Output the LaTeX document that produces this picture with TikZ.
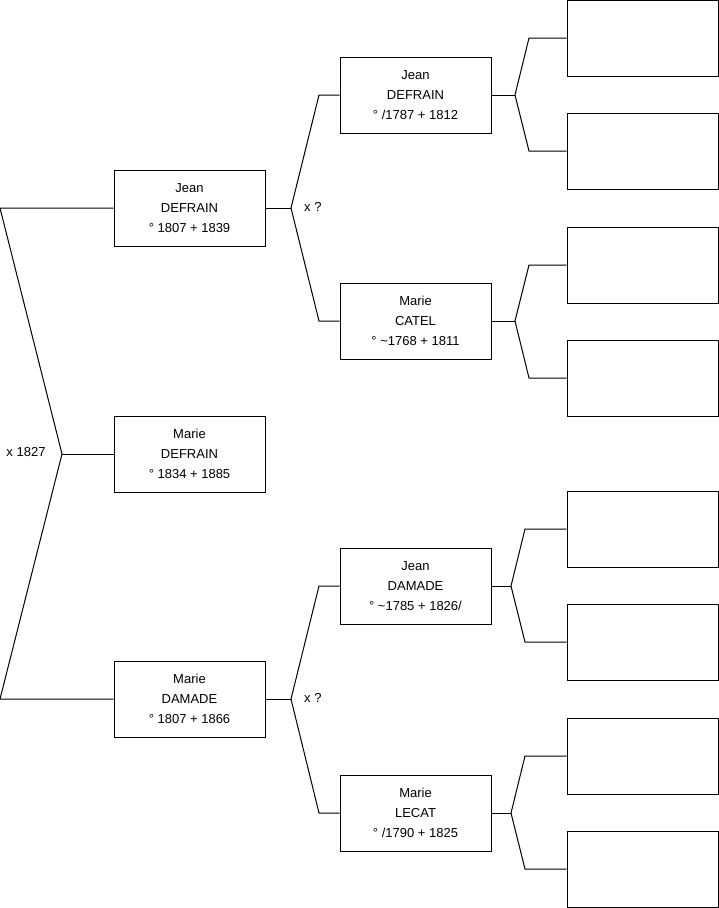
\documentclass[tikz,border=0pt]{standalone}
\usepackage{fontspec}
\setmainfont{Liberation Sans}
\begin{document}
\begin{tikzpicture}[x=1pt,y=-1pt,
  person/.style={draw=black, line width=1pt, minimum width=151pt, minimum height=76pt, inner sep=0pt, align=center, font=\fontsize{13}{20}\selectfont},
  blank/.style={draw=black, line width=1pt, minimum width=151pt, minimum height=76pt, inner sep=0pt},
  link/.style={draw=black, line width=1pt},
  lbl/.style={font=\fontsize{13}{14}\selectfont, inner sep=0pt}]
\useasboundingbox (0,0) rectangle (719,908);
% persons
\node[person] (root) at (189.5,454) {Marie\\DEFRAIN\\° 1834 + 1885};
\node[person] (p1) at (189.5,208) {Jean\\DEFRAIN\\° 1807 + 1839};
\node[person] (p2) at (189.5,699) {Marie\\DAMADE\\° 1807 + 1866};
\node[person] (g1) at (415.5,95) {Jean\\DEFRAIN\\° /1787 + 1812};
\node[person] (g2) at (415.5,321) {Marie\\CATEL\\° \textasciitilde 1768 + 1811};
\node[person] (g3) at (415.5,586) {Jean\\DAMADE\\° \textasciitilde 1785 + 1826/};
\node[person] (g4) at (415.5,813) {Marie\\LECAT\\° /1790 + 1825};
% empty boxes
\node[blank] (e1) at (642.5,38) {};
\node[blank] (e2) at (642.5,151) {};
\node[blank] (e3) at (642.5,265) {};
\node[blank] (e4) at (642.5,378) {};
\node[blank] (e5) at (642.5,529) {};
\node[blank] (e6) at (642.5,642) {};
\node[blank] (e7) at (642.5,756) {};
\node[blank] (e8) at (642.5,869) {};
% fork points
\coordinate (f0) at (62,454);
\coordinate (f0a) at (0,208);
\coordinate (f0b) at (0,699);
\coordinate (f1) at (291,208);
\coordinate (f1a) at (319,95);
\coordinate (f1b) at (319,321);
\coordinate (f2) at (291,699);
\coordinate (f2a) at (319,586);
\coordinate (f2b) at (319,813);
\coordinate (h1) at (515,95);
\coordinate (h1a) at (529,38);
\coordinate (h1b) at (529,151);
\coordinate (h2) at (515,321);
\coordinate (h2a) at (529,265);
\coordinate (h2b) at (529,378);
\coordinate (h3) at (511,586);
\coordinate (h3a) at (525,529);
\coordinate (h3b) at (525,642);
\coordinate (h4) at (511,813);
\coordinate (h4a) at (525,756);
\coordinate (h4b) at (525,869);
% connectors
\draw[link] (root.west) -- (f0);
\draw[link] (f0) -- (f0a) -- (p1.west);
\draw[link] (f0) -- (f0b) -- (p2.west);
\draw[link] (p1.east) -- (f1);
\draw[link] (f1) -- (f1a) -- (g1.west);
\draw[link] (f1) -- (f1b) -- (g2.west);
\draw[link] (p2.east) -- (f2);
\draw[link] (f2) -- (f2a) -- (g3.west);
\draw[link] (f2) -- (f2b) -- (g4.west);
\draw[link] (g1.east) -- (h1);
\draw[link] (h1) -- (h1a) -- (e1.west);
\draw[link] (h1) -- (h1b) -- (e2.west);
\draw[link] (g2.east) -- (h2);
\draw[link] (h2) -- (h2a) -- (e3.west);
\draw[link] (h2) -- (h2b) -- (e4.west);
\draw[link] (g3.east) -- (h3);
\draw[link] (h3) -- (h3a) -- (e5.west);
\draw[link] (h3) -- (h3b) -- (e6.west);
\draw[link] (g4.east) -- (h4);
\draw[link] (h4) -- (h4a) -- (e7.west);
\draw[link] (h4) -- (h4b) -- (e8.west);
% marriage labels
\node[lbl] (m0) at (26,452) {x 1827};
\node[lbl, anchor=west] (m1) at (304,207) {x ?};
\node[lbl, anchor=west] (m2) at (304,698) {x ?};
\end{tikzpicture}
\end{document}
